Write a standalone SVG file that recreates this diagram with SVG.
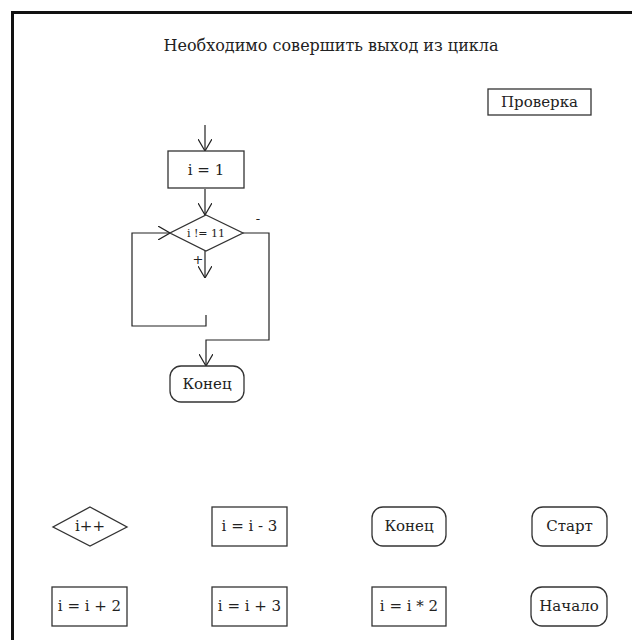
<svg xmlns="http://www.w3.org/2000/svg" width="632" height="640" viewBox="0 0 632 640" font-family="'DejaVu Serif', 'Liberation Serif', serif">
  <defs>
    <!-- open V arrowhead, tip at the end of the path -->
    <marker id="arrow" viewBox="0 0 12 14" refX="12" refY="7" markerWidth="12" markerHeight="14" markerUnits="userSpaceOnUse" orient="auto">
      <path d="M0,0 L12,7 L0,14" fill="none" stroke="#222" stroke-width="1.2"/>
    </marker>
  </defs>
  <style>
    .frame { fill: #fff; stroke: #111; stroke-width: 3; }
    .box { fill: #fff; stroke: #333; stroke-width: 1.3; }
    .term { fill: #fff; stroke: #333; stroke-width: 1.3; }
    .link { fill: none; stroke: #222; stroke-width: 1.2; }
    text { fill: #222; text-anchor: middle; dominant-baseline: central; }
    .lbl { font-size: 15px; }
    .small { font-size: 11px; }
    .sign { font-size: 13px; }
    .title { font-size: 16px; }
  </style>

  <rect x="0" y="0" width="632" height="640" fill="#fff"/>
  <!-- outer frame, right and bottom sides run past the canvas -->
  <rect class="frame" x="12.5" y="12.5" width="640" height="650"/>

  <text class="title" x="331" y="45">Необходимо совершить выход из цикла</text>

  <g id="check">
    <rect class="box" x="488" y="89" width="103" height="26"/>
    <text class="lbl" x="539.5" y="102">Проверка</text>
  </g>

  <!-- connectors -->
  <g id="connectors">
    <line class="link" x1="205" y1="125" x2="205" y2="151" marker-end="url(#arrow)"/>
    <line class="link" x1="205" y1="189" x2="205" y2="215" marker-end="url(#arrow)"/>
    <line class="link" x1="205" y1="251" x2="205" y2="278" marker-end="url(#arrow)"/>
    <polyline class="link" points="206,315 206,326 132,326 132,233 170,233" marker-end="url(#arrow)"/>
    <polyline class="link" points="243,233 269,233 269,340 206,340 206,366" marker-end="url(#arrow)"/>
    <text class="sign" x="258" y="218">-</text>
    <text class="sign" x="198" y="259">+</text>
  </g>

  <g id="init">
    <rect class="box" x="168" y="151" width="76" height="37"/>
    <text class="lbl" x="206" y="170">i = 1</text>
  </g>

  <g id="cond">
    <polygon class="box" points="206,215 243,233 206,251 170,233"/>
    <text class="small" x="206" y="233">i != 11</text>
  </g>

  <g id="end">
    <rect class="term" x="170" y="366" width="74" height="36" rx="11"/>
    <text class="lbl" x="207" y="384">Конец</text>
  </g>

  <!-- palette of spare blocks -->
  <g id="inc">
    <polygon class="box" points="90,507 127,527 90,546 53,527"/>
    <text class="lbl" x="90" y="526">i++</text>
  </g>
  <g id="minus3">
    <rect class="box" x="212" y="507" width="75" height="39"/>
    <text class="lbl" x="249.5" y="526">i = i - 3</text>
  </g>
  <g id="end2">
    <rect class="term" x="372" y="507" width="74" height="39" rx="11"/>
    <text class="lbl" x="409" y="526">Конец</text>
  </g>
  <g id="start">
    <rect class="term" x="532" y="507" width="75" height="39" rx="11"/>
    <text class="lbl" x="569.5" y="526">Старт</text>
  </g>
  <g id="plus2">
    <rect class="box" x="52" y="587" width="75" height="39"/>
    <text class="lbl" x="89.5" y="606">i = i + 2</text>
  </g>
  <g id="plus3">
    <rect class="box" x="212" y="587" width="75" height="39"/>
    <text class="lbl" x="249.5" y="606">i = i + 3</text>
  </g>
  <g id="mul2">
    <rect class="box" x="372" y="587" width="74" height="39"/>
    <text class="lbl" x="409" y="606">i = i * 2</text>
  </g>
  <g id="begin">
    <rect class="term" x="531" y="587" width="76" height="39" rx="11"/>
    <text class="lbl" x="569" y="606">Начало</text>
  </g>
</svg>
